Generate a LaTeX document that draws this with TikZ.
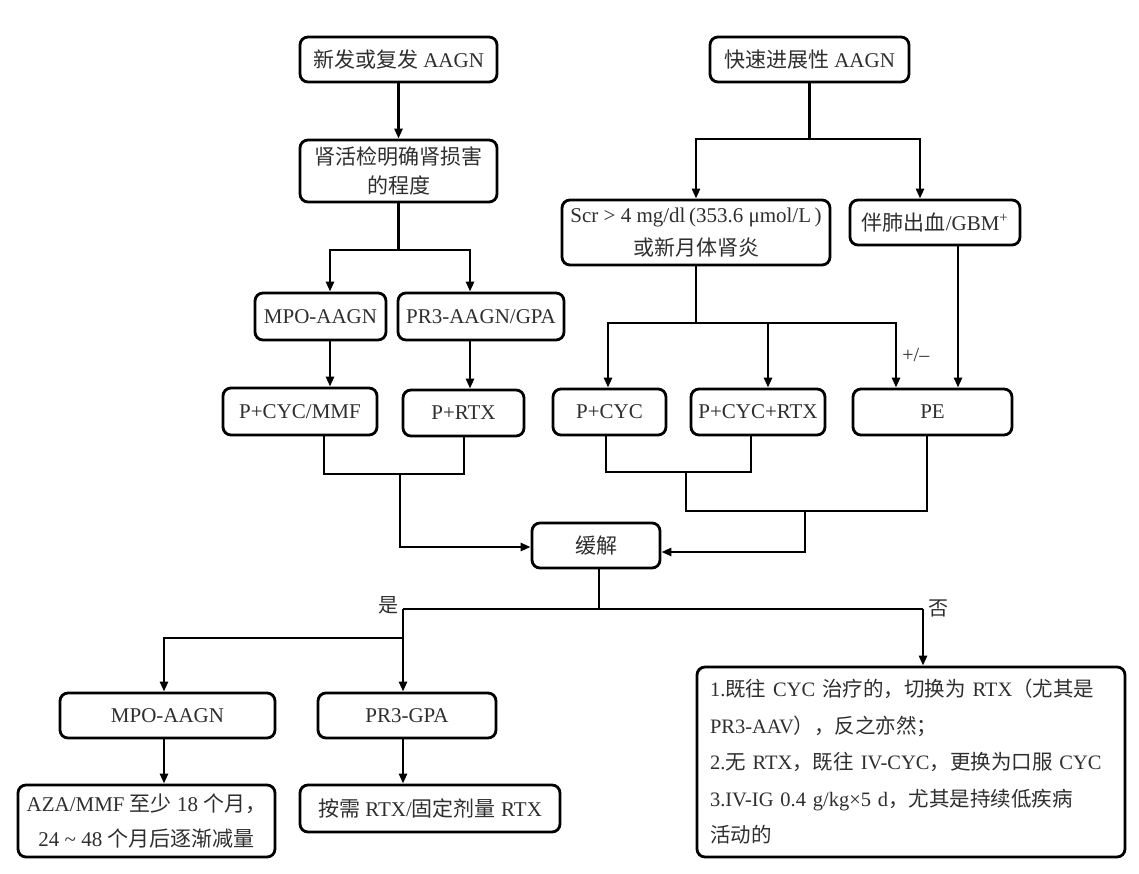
\documentclass[tikz,border=0pt]{standalone}
\usepackage{fontspec}
\setmainfont{Liberation Serif}
\newfontfamily\cjkfont{Noto Sans CJK SC}
\newcommand\zhs[1]{{\cjkfont #1}}
\usetikzlibrary{arrows.meta}

\begin{document}
\begin{tikzpicture}[x=1pt,y=-1pt,
  box/.style={draw=black, line width=2.8pt, rounded corners=8pt, align=center,
              inner sep=2pt, text=black!82, font=\fontsize{21}{30}\selectfont},
  ln/.style={line width=2.8pt},
  ar/.style={ln, -{Triangle[length=10pt,width=8pt]}},
  lbl/.style={text=black!82, font=\fontsize{20}{24}\selectfont, inner sep=0pt}]
\useasboundingbox (0,0) rectangle (1139,874);

% ---- nodes ----
\node[box, minimum width=197pt, minimum height=45pt] (n1) at (398.5,59.5) {\zhs{新发或复发} AAGN};
\node[box, minimum width=197pt, minimum height=62pt, font=\fontsize{21}{29}\selectfont] (n2) at (398.5,171) {\zhs{肾活检明确肾损害}\\\zhs{的程度}};
\node[box, minimum width=199pt, minimum height=45pt] (n3) at (809.5,59.5) {\zhs{快速进展性} AAGN};
\node[box, minimum width=268pt, minimum height=65pt, font=\fontsize{21}{33}\selectfont] (n4) at (696,232.5) {Scr > 4 mg/dl\,(353.6 μmol/L\,)\\\zhs{或新月体肾炎}};
\node[box, minimum width=170pt, minimum height=45pt] (n5) at (935,222.5) {\zhs{伴肺出血}/GBM\textsuperscript{+}};
\node[box, minimum width=131pt, minimum height=47pt] (n6) at (320.5,316.5) {MPO-AAGN};
\node[box, minimum width=166pt, minimum height=47pt] (n7) at (481,316.5) {PR3-AAGN/GPA};
\node[box, minimum width=154pt, minimum height=47pt] (n8) at (300,411.5) {P+CYC/MMF};
\node[box, minimum width=121pt, minimum height=46pt] (n9) at (463.5,413) {P+RTX};
\node[box, minimum width=113pt, minimum height=46pt] (n10) at (609.5,412) {P+CYC};
\node[box, minimum width=134pt, minimum height=46pt] (n11) at (758,412) {P+CYC+RTX};
\node[box, minimum width=159pt, minimum height=46pt] (n12) at (932.5,412) {PE};
\node[box, minimum width=128pt, minimum height=45pt] (n13) at (596,545.5) {\zhs{缓解}};
\node[box, minimum width=215pt, minimum height=45pt] (n14) at (167.5,715.5) {MPO-AAGN};
\node[box, minimum width=178pt, minimum height=45pt] (n15) at (407,715.5) {PR3-GPA};
\node[box, minimum width=257pt, minimum height=72pt, font=\fontsize{21}{35}\selectfont] (n16) at (146.5,821) {AZA/MMF \zhs{至少} 18 \zhs{个月，}\\24 \textasciitilde{} 48 \zhs{个月后逐渐减量}};
\node[box, minimum width=260pt, minimum height=47pt] (n17) at (430,808.5) {\zhs{按需} RTX/\zhs{固定剂量} RTX};
\node[box, minimum width=428pt, minimum height=190pt, align=left, text width=402pt, font=\fontsize{20.5}{36.5}\selectfont] (n18) at (911,762) {1.\zhs{既往} CYC \zhs{治疗的，切换为} RTX\zhs{（尤其是}\\
PR3-AAV\zhs{），反之亦然；}\\
2.\zhs{无} RTX\zhs{，既往} IV-CYC\zhs{，更换为口服} CYC\\
3.IV-IG 0.4 g/kg×5 d\zhs{，尤其是持续低疾病}\\
\zhs{活动的}};

% ---- connectors: left top ----
\draw[ar] (n1) -- (n2);
\draw[ln] (n2.south) -- (398.5,250) coordinate (j1);
\draw[ar] (j1) -| (330,0 |- n6.north);
\draw[ar] (j1) -| (470,0 |- n7.north);
\draw[ar] (330,0 |- n6.south) -- (330,0 |- n8.north);
\draw[ar] (470,0 |- n7.south) -- (470,0 |- n9.north);

% ---- connectors: right top ----
\draw[ln] (n3.south) -- (809.5,139) coordinate (j2);
\draw[ar] (j2) -| (696,0 |- n4.north);
\draw[ar] (j2) -| (920,0 |- n5.north);
\draw[ln] (n4.south) -- (696,323) coordinate (j3);
\draw[ar] (j3) -| (608,0 |- n10.north);
\draw[ar] (j3) -| (768,0 |- n11.north);
\draw[ar] (j3) -| (896,0 |- n12.north) node[lbl, pos=0.75, right=5pt] {+/–};
\draw[ar] (958,0 |- n5.south) -- (958,0 |- n12.north);

% ---- merges into remission ----
\draw[ln] (324,0 |- n8.south) -- (324,474) -- (464,474) -- (464,0 |- n9.south);
\draw[ar] (400,474) coordinate (j4) |- (n13.west |- 0,547);
\draw[ln] (606,0 |- n10.south) -- (606,472) -- (751,472) -- (751,0 |- n11.south);
\draw[ln] (686,472) -- (686,511) -- (927,511) -- (927,0 |- n12.south);
\draw[ar] (805,511) coordinate (j5) |- (n13.east |- 0,552);

% ---- remission branches ----
\draw[ln] (599,0 |- n13.south) -- (599,609) coordinate (j6);
\draw[ln] (403,609) coordinate (jy) -- (923,609) coordinate (jn);
\node[lbl, anchor=east] (yes) at (399,605) {\zhs{是}};
\node[lbl, anchor=west] (no) at (928,608) {\zhs{否}};
\draw[ar] (jy) -- (403,0 |- n15.north);
\draw[ar] (403,638) -| (164,0 |- n14.north);
\draw[ar] (jn) -- (923,0 |- n18.north);
\draw[ar] (164,0 |- n14.south) -- (164,0 |- n16.north);
\draw[ar] (403,0 |- n15.south) -- (403,0 |- n17.north);
\end{tikzpicture}
\end{document}
